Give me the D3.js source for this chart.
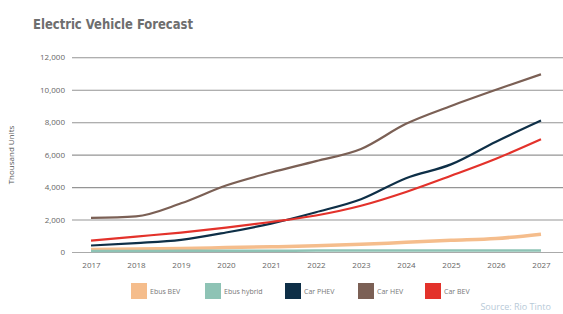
<!DOCTYPE html>
<html><head><meta charset="utf-8">
<script src="https://cdn.jsdelivr.net/npm/d3@7"></script>
<style>body{margin:0;background:#fff;}svg{display:block;}</style>
</head><body>
<svg id="c" width="563" height="314"></svg>
<script>
const years = [2017,2018,2019,2020,2021,2022,2023,2024,2025,2026,2027];
const yTicks = [0,2000,4000,6000,8000,10000,12000];
const seriesNames = ["Ebus BEV","Ebus hybrid","Car PHEV","Car HEV","Car BEV"];
const seriesColors = ["#f5bd8c","#8ec3b5","#0e2f47","#7b6055","#e3322b"];
const ebusBEV    = [150,180,220,270,320,380,470,600,720,830,1100];
const ebusHybrid = [60,65,70,75,80,85,90,95,100,100,100];
const carPHEV    = [400,550,750,1200,1750,2450,3250,4550,5400,6800,8100];
const carHEV     = [2100,2200,3000,4100,4900,5600,6350,7900,9000,10000,10950];
const carBEV     = [700,950,1200,1500,1850,2250,2850,3700,4700,5750,6950];
const seriesValues = [ebusBEV, ebusHybrid, carPHEV, carHEV, carBEV];
const strokeW = [3.5,2.5,2.2,2.2,2.2];

const svg = d3.select("#c");
const x = d3.scalePoint().domain(years).range([91,541]);
const y = d3.scaleLinear().domain([0,12000]).range([252,57.3]);

svg.append("text").attr("x",33).attr("y",29)
  .attr("font-family","DejaVu Sans Condensed, DejaVu Sans").attr("font-weight","bold")
  .attr("textLength",160).attr("lengthAdjust","spacingAndGlyphs")
  .attr("font-size",14).attr("fill","#6e6e6e").text("Electric Vehicle Forecast");

const ax = svg.append("g").attr("transform","translate(72,0)")
  .call(d3.axisLeft(y).tickValues(yTicks).tickSize(-491).tickPadding(7).tickFormat(d3.format(",")));
ax.select(".domain").remove();
ax.selectAll(".tick line").attr("stroke",d=>d===0?"#aaa":"#959595").attr("stroke-width",1.1);
ax.selectAll(".tick text").attr("font-family","Open Sans, Lato, sans-serif").attr("font-size",8).attr("fill","#666");

const xa = svg.append("g").attr("transform","translate(0,252)")
  .call(d3.axisBottom(x).tickSize(0).tickPadding(10));
xa.select(".domain").remove();
xa.selectAll(".tick text").attr("font-family","Open Sans, Lato, sans-serif").attr("font-size",8).attr("fill","#666");

svg.append("text").attr("transform","translate(14,155) rotate(-90)")
  .attr("text-anchor","middle").attr("font-family","Open Sans, Lato, sans-serif")
  .attr("font-size",8).attr("fill","#555").text("Thousand Units");

const line = d3.line().x((d,i)=>x(years[i])).y(d=>y(d)).curve(d3.curveMonotoneX);
seriesValues.forEach((vals,k)=>{
  svg.append("path").attr("d",line(vals)).attr("fill","none")
    .attr("stroke",seriesColors[k]).attr("stroke-width",strokeW[k]).attr("stroke-linejoin","round");
});

const legX = [131,205,285,358,425];
seriesNames.forEach((n,k)=>{
  const g = svg.append("g").attr("transform",`translate(${legX[k]},283)`);
  g.append("rect").attr("width",16).attr("height",16).attr("fill",seriesColors[k]);
  g.append("text").attr("x",19).attr("y",11).attr("font-family","Open Sans, Lato, sans-serif")
    .attr("font-size",7).attr("fill","#777").text(n);
});

svg.append("text").attr("x",551).attr("y",310).attr("text-anchor","end")
  .attr("font-family","Open Sans, Lato, sans-serif").attr("font-size",9)
  .attr("fill","#b8cad8").text("Source: Rio Tinto");
</script>
</body></html>
